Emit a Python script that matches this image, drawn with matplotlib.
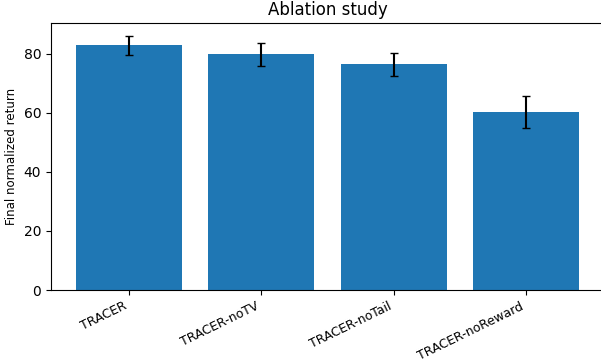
import matplotlib
matplotlib.use("Agg")
import matplotlib.pyplot as plt

# ablation results
variants = ['TRACER', 'TRACER-noTV', 'TRACER-noTail', 'TRACER-noReward']
means = [82.8, 79.8, 76.4, 60.3]
stds = [3.2, 3.8, 3.8, 5.5]

fig = plt.figure(figsize=(6.01, 3.6), dpi=100)
ax = fig.add_axes([0.0849, 0.1944, 0.920, 0.741])

ax.bar(variants, means, yerr=stds, capsize=3, color='#1f77b4')
ax.set_title('Ablation study')
ax.set_ylabel('Final normalized return', fontsize=8.5)
plt.setp(ax.get_xticklabels(), rotation=26, ha='right', fontsize=9)

fig.savefig('out.png', dpi=100)
